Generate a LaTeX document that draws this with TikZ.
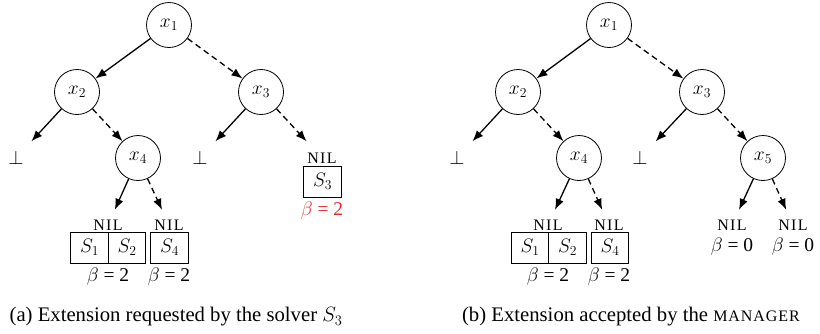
\RequirePackage{fix-cm}
\documentclass[tikz,border=0pt]{standalone}
\usepackage{fontspec}
\setmainfont{Liberation Serif}
\usetikzlibrary{arrows.meta}
\definecolor{betared}{RGB}{220,45,45}
\newcommand{\nilt}{{\fontsize{16}{18}\selectfont\addfontfeatures{LetterSpace=8}NIL}}
\newcommand{\mgrt}{{\fontsize{16}{18}\selectfont\addfontfeatures{LetterSpace=6}MANAGER}}
\begin{document}
\begin{tikzpicture}[x=1pt,y=-1pt,
  every node/.style={font=\fontsize{19.5}{22}\selectfont},
  vnode/.style={circle,draw,line width=0.8pt,minimum size=45pt,inner sep=0pt},
  leafnode/.style={circle,minimum size=45pt,inner sep=0pt},
  nilnode/.style={circle,minimum size=33pt,inner sep=0pt},
  sbox/.style={rectangle,draw,line width=0.8pt,minimum width=37.5pt,minimum height=31pt,inner sep=0pt},
  solidarr/.style={line width=1.3pt,-{Latex[length=11pt,width=8.5pt]}},
  dasharr/.style={solidarr,dash pattern=on 6pt off 4pt},
  lbl/.style={inner sep=0pt},
  captext/.style={font=\fontsize{20.7}{24}\selectfont,inner sep=0pt}]
\useasboundingbox (0,0) rectangle (820,333);

% ---------- (a) ----------
\node[vnode] (a1) at (169,25) {$x_1$};
\node[vnode] (a2) at (77,92) {$x_2$};
\node[vnode] (a3) at (261,92) {$x_3$};
\node[vnode] (a4) at (138,158) {$x_4$};
\node[leafnode] (abot1) at (16,158) {$\bot$};
\node[leafnode] (abot2) at (200,158) {$\bot$};
\node[leafnode] (anil3) at (322,158) {\nilt};
\node[nilnode] (anilA) at (108,225) {\nilt};
\node[nilnode] (anilB) at (169,225) {\nilt};
\node[sbox] (as1) at (89.5,247.5) {$S_1$};
\node[sbox] (as2) at (127,247.5) {$S_2$};
\node[sbox] (as4) at (169.5,247.5) {$S_4$};
\node[sbox] (as3) at (322.5,181.5) {$S_3$};
\node[lbl] (abA) at (108,277) {$\beta$ = 2};
\node[lbl] (abB) at (169,277) {$\beta$ = 2};
\node[lbl,text=betared] (ab3) at (322,211) {$\beta$ = 2};

\draw[solidarr] (a1) -- (a2);
\draw[dasharr] (a1) -- (a3);
\draw[solidarr] (a2) -- (abot1);
\draw[dasharr] (a2) -- (a4);
\draw[solidarr] (a3) -- (abot2);
\draw[dasharr] (a3) -- (anil3);
\draw[solidarr] (a4) -- (anilA);
\draw[dasharr] (a4) -- (anilB);

\node[captext] (capa) at (176,317) {(a) Extension requested by the solver $S_3$};

% ---------- (b) ----------
\node[vnode] (b1) at (609,25) {$x_1$};
\node[vnode] (b2) at (518,92) {$x_2$};
\node[vnode] (b3) at (702,92) {$x_3$};
\node[vnode] (b4) at (579,158) {$x_4$};
\node[vnode] (b5) at (763,158) {$x_5$};
\node[leafnode] (bbot1) at (457,158) {$\bot$};
\node[leafnode] (bbot2) at (640,158) {$\bot$};
\node[nilnode] (bnilA) at (548,225) {\nilt};
\node[nilnode] (bnilB) at (609,225) {\nilt};
\node[nilnode] (bnilC) at (732,225) {\nilt};
\node[nilnode] (bnilD) at (793,225) {\nilt};
\node[sbox] (bs1) at (530,247.5) {$S_1$};
\node[sbox] (bs2) at (567.5,247.5) {$S_2$};
\node[sbox] (bs4) at (610,247.5) {$S_4$};
\node[lbl] (bbA) at (548,277) {$\beta$ = 2};
\node[lbl] (bbB) at (609,277) {$\beta$ = 2};
\node[lbl] (bbC) at (732,247) {$\beta$ = 0};
\node[lbl] (bbD) at (793,247) {$\beta$ = 0};

\draw[solidarr] (b1) -- (b2);
\draw[dasharr] (b1) -- (b3);
\draw[solidarr] (b2) -- (bbot1);
\draw[dasharr] (b2) -- (b4);
\draw[solidarr] (b3) -- (bbot2);
\draw[dasharr] (b3) -- (b5);
\draw[solidarr] (b4) -- (bnilA);
\draw[dasharr] (b4) -- (bnilB);
\draw[solidarr] (b5) -- (bnilC);
\draw[dasharr] (b5) -- (bnilD);

\node[captext] (capb) at (631,317) {(b) Extension accepted by the \mgrt};
\end{tikzpicture}
\end{document}
